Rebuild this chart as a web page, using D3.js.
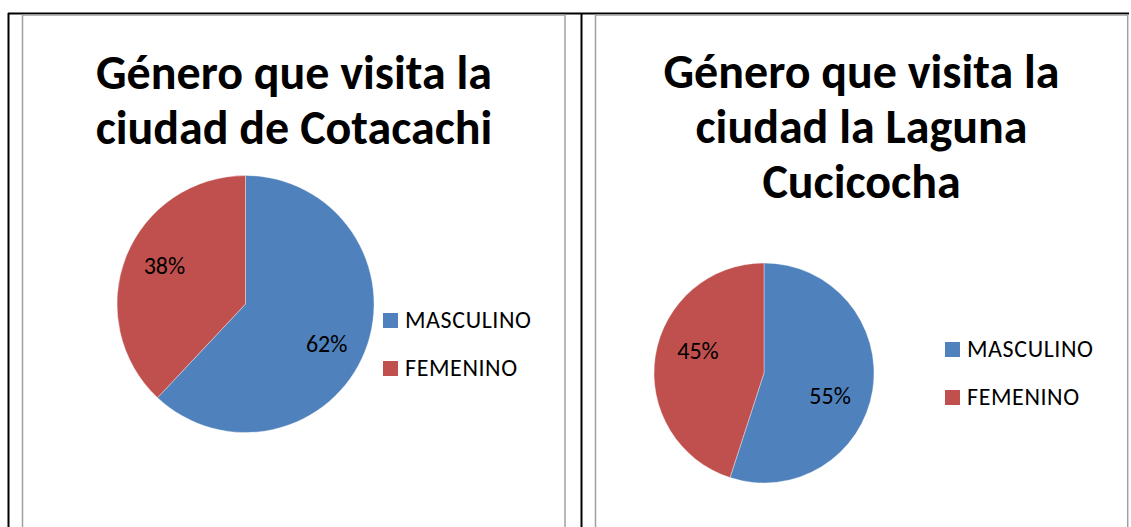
<!DOCTYPE html>
<html>
<head>
<meta charset="utf-8">
<script src="https://cdn.jsdelivr.net/npm/d3@7"></script>
<style>
  html, body { margin: 0; padding: 0; background: #fff; }
  svg { display: block; }
  text { font-family: Calibri, Carlito, Lato, "Open Sans", sans-serif; }
</style>
</head>
<body>
<svg id="chart" width="1131" height="527"></svg>
<script>
// ---- data ----
const categories = ["MASCULINO", "FEMENINO"];
const cotacachiValues = [62, 38];
const cuicochaValues = [55, 45];
const cotacachiTitle = ["Género que visita la", "ciudad de Cotacachi"];
const cuicochaTitle = ["Género que visita la", "ciudad la Laguna", "Cucicocha"];
const colors = ["#4F81BD", "#C0504D"];

const svg = d3.select("#chart");

// table borders
svg.append("line").attr("x1", 8).attr("x2", 1129).attr("y1", 13.5).attr("y2", 13.5)
  .attr("stroke", "#000").attr("stroke-width", 2);
svg.append("line").attr("x1", 8.5).attr("x2", 8.5).attr("y1", 13).attr("y2", 527)
  .attr("stroke", "#000").attr("stroke-width", 2);
svg.append("line").attr("x1", 581.5).attr("x2", 581.5).attr("y1", 13).attr("y2", 527)
  .attr("stroke", "#000").attr("stroke-width", 2);

const color = d3.scaleOrdinal().domain(categories).range(colors);

const charts = [
  { values: cotacachiValues, title: cotacachiTitle, frame: [22.5, 15, 565, 600],
    cx: 245.5, cy: 304, r: 128.5, labelK: 0.70, labelRot: 4, titleX: 294, titleY0: 89,
    legX: 383, legY0: 313 },
  { values: cuicochaValues, title: cuicochaTitle, frame: [595.5, 15, 1127.7, 600],
    cx: 764, cy: 373, r: 110, labelK: 0.635, labelRot: 10, titleX: 861.5, titleY0: 88,
    legX: 945, legY0: 342 }
];

const pie = d3.pie().sort(null).value(d => d.value);

charts.forEach(c => {
  const g = svg.append("g");
  const [x0, y0, x1, y1] = c.frame;
  g.append("rect").attr("x", x0).attr("y", y0).attr("width", x1 - x0).attr("height", y1 - y0)
    .attr("fill", "#fff").attr("stroke", "#a0a0a0").attr("stroke-width", 1.5);

  // title
  const t = g.append("text").attr("text-anchor", "middle")
    .attr("font-weight", "bold").attr("font-size", 48).attr("fill", "#000");
  c.title.forEach((line, i) => {
    t.append("tspan").attr("x", c.titleX).attr("y", c.titleY0 + i * 55).text(line);
  });

  const data = categories.map((k, i) => ({ key: k, value: c.values[i] }));
  const arcs = pie(data);
  const arc = d3.arc().innerRadius(0).outerRadius(c.r);
  const labelArc = d3.arc().innerRadius(c.r * c.labelK).outerRadius(c.r * c.labelK);
  const rot = c.labelRot * Math.PI / 180;
  const pg = g.append("g").attr("transform", `translate(${c.cx},${c.cy})`);
  pg.selectAll("path").data(arcs).join("path")
    .attr("d", arc).attr("fill", d => color(d.data.key))
    .attr("stroke", "#fff").attr("stroke-width", 0.6).attr("stroke-opacity", 0.6);
  pg.selectAll("text").data(arcs).join("text")
    .attr("transform", d => `translate(${labelArc.centroid({startAngle: d.startAngle + rot, endAngle: d.endAngle + rot})})`)
    .attr("text-anchor", "middle").attr("dy", "0.36em")
    .attr("font-size", 24).attr("fill", "#000")
    .text(d => d.data.value + "%");

  // legend
  const lg = g.append("g");
  categories.forEach((k, i) => {
    const y = c.legY0 + i * 48;
    lg.append("rect").attr("x", c.legX).attr("y", y).attr("width", 15).attr("height", 15)
      .attr("fill", color(k));
    lg.append("text").attr("x", c.legX + 22).attr("y", y + 15)
      .attr("font-size", 24).attr("letter-spacing", 0.6).attr("fill", "#000").text(k);
  });
});
</script>
</body>
</html>
